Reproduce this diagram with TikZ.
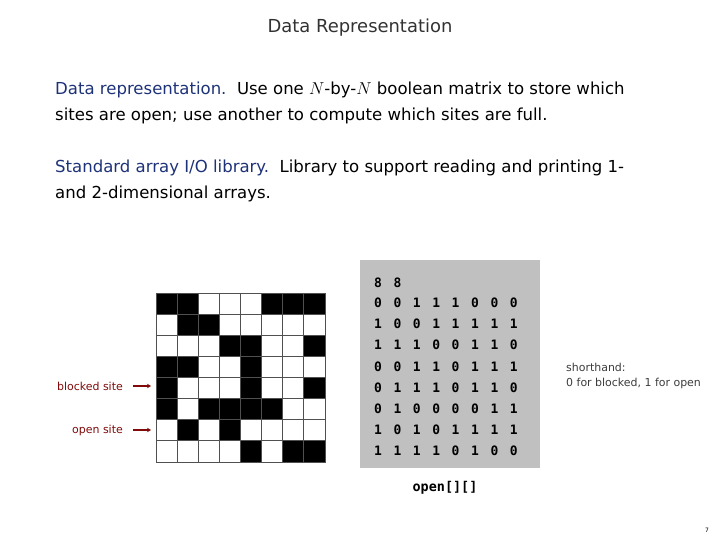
\documentclass[tikz,border=0pt]{standalone}
\usepackage{fontspec}
\setmainfont{DejaVu Sans}
\setmonofont{DejaVu Sans Mono}
\usepackage{tikz}
\usetikzlibrary{arrows.meta,positioning}
\definecolor{headblue}{RGB}{30,50,120}
\definecolor{labelred}{RGB}{128,10,10}
\definecolor{titlegray}{RGB}{50,50,50}
\definecolor{notegray}{RGB}{60,60,60}
\definecolor{boxgray}{RGB}{192,192,192}
\definecolor{gridline}{RGB}{80,80,80}
\tikzset{
  titletext/.style={font=\fontsize{18}{20}\selectfont,text=titlegray,inner sep=0pt},
  bodytext/.style={anchor=west,align=left,font=\fontsize{16.6}{26}\selectfont,inner sep=0pt},
  sitelabel/.style={anchor=east,font=\fontsize{11}{13}\selectfont,text=labelred,inner sep=0pt},
  notetext/.style={anchor=west,align=left,font=\fontsize{11}{15}\selectfont,text=notegray,inner sep=0pt},
  digit/.style={font=\fontsize{13}{14}\ttfamily\bfseries,inner sep=0pt},
  cellbox/.style={draw=gridline,line width=1pt},
  redarr/.style={-{Stealth[length=4pt,width=4.5pt]},line width=1.4pt,color=labelred}
}
\newcommand{\hd}[1]{\textcolor{headblue}{#1}}

\begin{document}
\begin{tikzpicture}[x=1bp,y=-1bp]
  \useasboundingbox (0,0) rectangle (720,540);
  \node[titletext] (title) at (360,28) {Data Representation};
  \node[bodytext] (para1) at (55,103) {\hd{Data representation.}\ \ Use one $N$-by-$N$ boolean matrix to store which\\sites are open; use another to compute which sites are full.};
  \node[bodytext] (para2) at (55,181) {\hd{Standard array I/O library.}\ \ Library to support reading and printing 1-\\and 2-dimensional arrays.};
  % open[][] array and the grid it stands for
  \fill[boxgray] (360,260) rectangle (540,468);
  \node[digit] (hd-1) at (378,283) {8};
  \node[digit] (hd-2) at (397.4,283) {8};
  \foreach \row [count=\r] in {{0,0,1,1,1,0,0,0},{1,0,0,1,1,1,1,1},{1,1,1,0,0,1,1,0},{0,0,1,1,0,1,1,1},
                               {0,1,1,1,0,1,1,0},{0,1,0,0,0,0,1,1},{1,0,1,0,1,1,1,1},{1,1,1,1,0,1,0,0}}{
    \foreach \v [count=\c] in \row {
      \ifnum\v=0
        \filldraw[cellbox,fill=black] ({156+(\c-1)*21.125},{293+(\r-1)*21.125}) rectangle ++(21.125,21.125);
      \else
        \filldraw[cellbox,fill=white] ({156+(\c-1)*21.125},{293+(\r-1)*21.125}) rectangle ++(21.125,21.125);
      \fi
      \node[digit] (m-\r-\c) at ({378+(\c-1)*19.4},{303+(\r-1)*21.1}) {\v};
    }
  }
  \node[sitelabel] (blk) at (123,386) {blocked site};
  \node[sitelabel] (opn) at (123,430) {open site};
  \coordinate (blkend) at (151,386);
  \coordinate (opnend) at (151,430);
  \draw[redarr] ([xshift=10pt]blk.east) -- (blkend);
  \draw[redarr] ([xshift=10pt]opn.east) -- (opnend);
  \node[notetext] (note) at (566,376) {shorthand:\\0 for blocked, 1 for open};
  \node[digit,font=\fontsize{13.5}{15}\ttfamily\bfseries] (arrname) at (445,488) {open[][]};
  \node[font=\fontsize{6}{7}\selectfont,inner sep=0pt] (pg) at (707,530) {7};
\end{tikzpicture}
\end{document}
